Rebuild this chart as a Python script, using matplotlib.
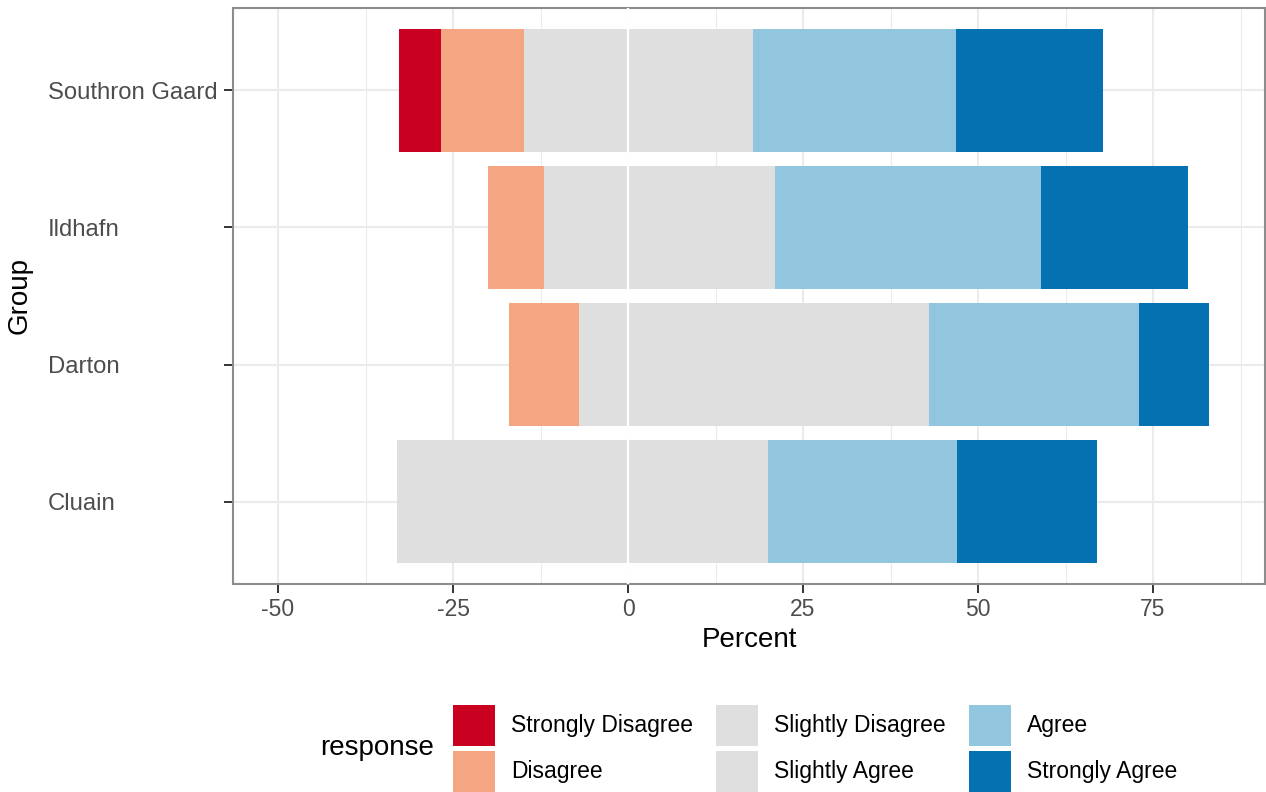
import matplotlib
matplotlib.use("Agg")
import matplotlib.pyplot as plt
from matplotlib.patches import Patch
import numpy as np

plt.rcParams['font.family'] = ['Liberation Sans', 'DejaVu Sans']
plt.rcParams['axes.unicode_minus'] = False

# Data (percent), groups listed bottom to top
groups = ["Cluain", "Darton", "Ildhafn", "Southron Gaard"]
strongly_disagree = [0, 0, 0, 6.0]
disagree = [0, 10, 8, 11.9]
slightly_disagree = [33, 7, 12, 14.8]
slightly_agree = [20, 43, 21, 17.9]
agree = [27, 30, 38, 29.0]
strongly_agree = [20, 10, 21, 21.0]

responses = ["Strongly Disagree", "Disagree", "Slightly Disagree",
             "Slightly Agree", "Agree", "Strongly Agree"]
colors = ["#CA0020", "#F4A582", "#DFDFDF", "#DFDFDF", "#92C5DE", "#0571B0"]

fig = plt.figure(figsize=(12.66, 7.92), dpi=100)
ax = fig.add_axes([233/1266, 1 - 584/792, 1032/1266, 576/792])

y = np.arange(1, len(groups) + 1)
h = 0.9

# negative side, stacked outward from zero
sd = np.array(slightly_disagree)
d = np.array(disagree)
sdis = np.array(strongly_disagree)
ax.barh(y, -sd, left=0, height=h, color=colors[2], zorder=2)
ax.barh(y, -d, left=-sd, height=h, color=colors[1], zorder=2)
ax.barh(y, -sdis, left=-sd - d, height=h, color=colors[0], zorder=2)

# positive side
sa = np.array(slightly_agree)
a = np.array(agree)
sag = np.array(strongly_agree)
ax.barh(y, sa, left=0, height=h, color=colors[3], zorder=2)
ax.barh(y, a, left=sa, height=h, color=colors[4], zorder=2)
ax.barh(y, sag, left=sa + a, height=h, color=colors[5], zorder=2)

ax.axvline(0, color="white", lw=1.6, zorder=3)

ax.set_xlim(-56.43, 91.0)
ax.set_ylim(0.4, 4.6)
ax.set_xticks([-50, -25, 0, 25, 50, 75])
ax.set_xticks([-37.5, -12.5, 12.5, 37.5, 62.5, 87.5], minor=True)
ax.set_yticks(y)
ax.set_yticklabels(groups, ha="left")

ax.grid(True, which="major", color="#EBEBEB", lw=1.5, zorder=0)
ax.grid(True, which="minor", axis="x", color="#EBEBEB", lw=0.8, zorder=0)
ax.set_axisbelow(True)

ax.tick_params(axis="both", which="major", labelsize=16.5, labelcolor="#4D4D4D",
               color="#333333", length=6.5, width=1.4, pad=3.5)
# left-justified group labels starting near the figure edge
ax.tick_params(axis="y", which="major", labelsize=17.2, pad=(224 - 48) * 0.72)
ax.tick_params(axis="both", which="minor", length=0)
for s in ax.spines.values():
    s.set_color("#8C8C8C")
    s.set_linewidth(1.5)

ax.set_xlabel("Percent", fontsize=20, va="center")
ax.xaxis.set_label_coords(0.5, (584 - 640) / 576)
ax.set_ylabel("Group", fontsize=20, va="center")
ax.yaxis.set_label_coords((20 - 233) / 1032, 0.5)

handles = [Patch(facecolor=c, edgecolor="none") for c in colors]
fig.legend(handles, responses, loc="lower left", bbox_to_anchor=(453/1266, 0.0),
           ncol=3, frameon=False, fontsize=16.5, handlelength=1.83,
           handleheight=2.4, labelspacing=0.2, handletextpad=0.7,
           columnspacing=1.01, borderpad=0, borderaxespad=0)
fig.text(320/1266, 1 - 748/792, "response", fontsize=20, ha="left", va="center")

fig.savefig("out.png", dpi=100)
